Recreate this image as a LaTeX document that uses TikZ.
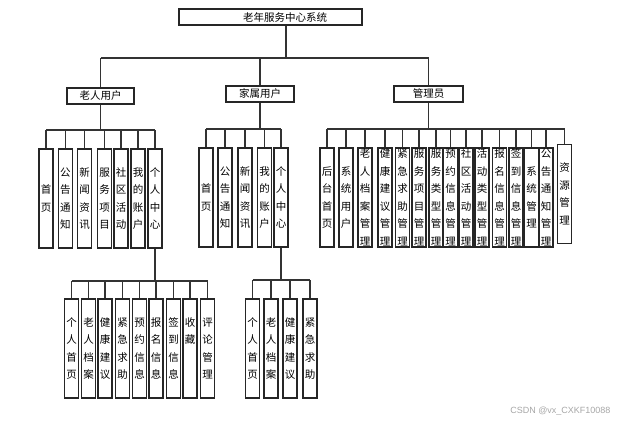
\documentclass[tikz,border=0pt]{standalone}
\usepackage{fontspec}
\newfontfamily\cjk{Noto Sans CJK SC}
\setsansfont{Liberation Sans}
\tikzset{
  box/.style={draw=black!85, line width=1.1pt, fill=white, inner sep=0pt,
    font=\cjk\fontsize{10.5}{12}\selectfont},
  rolebox/.style={box, minimum height=16pt},
  leaf/.style={box, minimum width=14pt, minimum height=99pt, align=center,
    font=\cjk\fontsize{10.5}{17.5}\selectfont},
  wire/.style={draw=black!80, line width=1.1pt},
}
\begin{document}
\begin{tikzpicture}[x=1pt, y=-1pt]
\useasboundingbox (0,0) rectangle (623,422);

% root and roles
\node[rolebox, minimum width=183pt] (root) at (270.5,17) {\hspace*{29pt}老年服务中心系统};
\node[rolebox, minimum width=67pt] (old) at (100.5,96) {老人用户};
\node[rolebox, minimum width=68pt] (fam) at (260,94) {家属用户};
\node[rolebox, minimum width=69pt] (adm) at (428.5,94) {管理员};

\coordinate (b0) at (286,58);
\draw[wire] (root.south -| b0) -- (b0);
\draw[wire] (old.north |- b0) -- (adm.north |- b0);
\foreach \n in {old,fam,adm}
  \draw[wire] (\n.north) -- (\n.north |- b0);

% elderly user
\foreach \x/\n/\t in {46/o1/首\\页, 65.3/o2/公\\告\\通\\知, 84.7/o3/新\\闻\\资\\讯,
    104.7/o4/服\\务\\项\\目, 121/o5/社\\区\\活\\动, 138/o6/我\\的\\账\\户,
    155/o7/个\\人\\中\\心}
  \node[leaf] (\n) at (\x,198.5) {\t};
\coordinate (b1) at (100.5,130);
\draw[wire] (old.south) -- (b1);
\draw[wire] (o1.north |- b1) -- (o7.north |- b1);
\foreach \i in {1,...,7}
  \draw[wire] (o\i.north) -- (o\i.north |- b1);

% family user
\foreach \x/\n/\t in {206/f1/首\\页, 225/f2/公\\告\\通\\知, 245/f3/新\\闻\\资\\讯,
    264.5/f4/我\\的\\账\\户, 281/f5/个\\人\\中\\心}
  \node[leaf] (\n) at (\x,197.5) {\t};
\coordinate (b2) at (260,129);
\draw[wire] (fam.south) -- (b2);
\draw[wire] (f1.north |- b2) -- (f5.north |- b2);
\foreach \i in {1,...,5}
  \draw[wire] (f\i.north) -- (f\i.north |- b2);

% admin
\foreach \x/\n/\t in {327/a1/后\\台\\首\\页, 346/a2/系\\统\\用\\户,
    365/a3/老\\人\\档\\案\\管\\理, 385/a4/健\\康\\建\\议\\管\\理,
    402.5/a5/紧\\急\\求\\助\\管\\理, 419/a6/服\\务\\项\\目\\管\\理,
    436/a7/服\\务\\类\\型\\管\\理, 450.5/a8/预\\约\\信\\息\\管\\理,
    466/a9/社\\区\\活\\动\\管\\理, 482/a10/活\\动\\类\\型\\管\\理,
    499.5/a11/报\\名\\信\\息\\管\\理, 516/a12/签\\到\\信\\息\\管\\理,
    531.5/a13/系\\统\\管\\理, 546/a14/公\\告\\通\\知\\管\\理}
  \node[leaf] (\n) at (\x,197.5) {\t};
\node[leaf] (a15) at (564.5,194) {资\\源\\管\\理};
\coordinate (b3) at (428.5,129);
\draw[wire] (adm.south) -- (b3);
\draw[wire] (a1.north |- b3) -- (a15.north |- b3);
\foreach \i in {1,...,15}
  \draw[wire] (a\i.north) -- (a\i.north |- b3);

% elderly personal centre
\foreach \x/\n/\t in {71.5/p1/个\\人\\首\\页, 88.5/p2/老\\人\\档\\案,
    105/p3/健\\康\\建\\议, 122.5/p4/紧\\急\\求\\助, 139.5/p5/预\\约\\信\\息,
    156/p6/报\\名\\信\\息, 173.5/p7/签\\到\\信\\息,
    190/p8/收\\藏\\\phantom{收}\\\phantom{收}, 207.5/p9/评\\论\\管\\理}
  \node[leaf] (\n) at (\x,348.5) {\t};
\coordinate (b4) at (155,281);
\draw[wire] (o7.south) -- (b4);
\draw[wire] (p1.north |- b4) -- (p9.north |- b4);
\foreach \i in {1,...,9}
  \draw[wire] (p\i.north) -- (p\i.north |- b4);

% family personal centre
\foreach \x/\n/\t in {252.5/q1/个\\人\\首\\页, 271/q2/老\\人\\档\\案,
    290/q3/健\\康\\建\\议, 310/q4/紧\\急\\求\\助}
  \node[leaf] (\n) at (\x,348.5) {\t};
\coordinate (b5) at (281,280);
\draw[wire] (f5.south) -- (b5);
\draw[wire] (q1.north |- b5) -- (q4.north |- b5);
\foreach \i in {1,...,4}
  \draw[wire] (q\i.north) -- (q\i.north |- b5);

\node[font=\sffamily\fontsize{9}{10}\selectfont, text=black!35, anchor=east]
  (mark) at (614,411) {CSDN @vx\_CXKF10088};
\end{tikzpicture}
\end{document}
